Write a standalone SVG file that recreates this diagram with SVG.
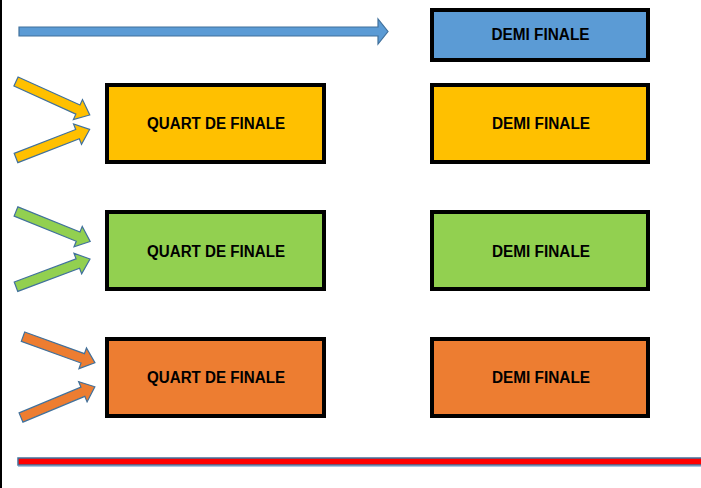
<svg xmlns="http://www.w3.org/2000/svg" width="701" height="488" viewBox="0 0 701 488">
<style>
.box{stroke:#000;stroke-width:4}
.arr{stroke:#41719c;stroke-width:1.2;stroke-linejoin:miter}
.lbl{font-family:"Liberation Sans",Arial,sans-serif;font-weight:bold;font-size:16px;fill:#000;text-anchor:middle}
.y{fill:#ffc000}.g{fill:#92d050}.o{fill:#ed7d31}.b{fill:#5b9bd5}
</style>
<rect x="0" y="0" width="701" height="488" fill="#fff"/>
<line x1="1" y1="0" x2="1" y2="488" stroke="#000" stroke-width="2"/>
<g id="connectors">
<polygon class="arr b" points="19,27 378,27 378,19 388,31.5 378,44 378,36 19,36"/>
<polygon class="arr y" transform="translate(16,81.5) rotate(24.4)" points="0,-5 68,-5 68,-11 81,0 68,11 68,5 0,5"/>
<polygon class="arr y" transform="translate(16,158) rotate(-21.2)" points="0,-5 66,-5 66,-11 79,0 66,11 66,5 0,5"/>
<polygon class="arr g" transform="translate(16,211.5) rotate(22)" points="0,-5 67,-5 67,-11 80,0 67,11 67,5 0,5"/>
<polygon class="arr g" transform="translate(16,286.7) rotate(-20.5)" points="0,-5 66,-5 66,-11 79,0 66,11 66,5 0,5"/>
<polygon class="arr o" transform="translate(23,336.7) rotate(19.9)" points="0,-5 63.5,-5 63.5,-11 76.5,0 63.5,11 63.5,5 0,5"/>
<polygon class="arr o" transform="translate(21,417.5) rotate(-22.6)" points="0,-5 67,-5 67,-11 80,0 67,11 67,5 0,5"/>
<rect x="18" y="458" width="690" height="7" fill="#ff0000" stroke="#41719c" stroke-width="1.5"/>
<line x1="18" y1="466.5" x2="701" y2="466.5" stroke="#a9c4e0" stroke-width="1"/>
</g>
<g id="demi-blue">
<rect class="box b" x="432" y="10" width="216" height="50"/>
<text class="lbl" x="540.5" y="39.5" textLength="98" lengthAdjust="spacingAndGlyphs">DEMI FINALE</text>
</g>
<g id="quart-yellow">
<rect class="box y" x="107" y="85" width="217" height="77"/>
<text class="lbl" x="216" y="129" textLength="138" lengthAdjust="spacingAndGlyphs">QUART DE FINALE</text>
</g>
<g id="demi-yellow">
<rect class="box y" x="432" y="85" width="216" height="77"/>
<text class="lbl" x="541" y="129" textLength="98" lengthAdjust="spacingAndGlyphs">DEMI FINALE</text>
</g>
<g id="quart-green">
<rect class="box g" x="107" y="212" width="217" height="77"/>
<text class="lbl" x="216" y="256.5" textLength="138" lengthAdjust="spacingAndGlyphs">QUART DE FINALE</text>
</g>
<g id="demi-green">
<rect class="box g" x="432" y="212" width="216" height="77"/>
<text class="lbl" x="541" y="256.5" textLength="98" lengthAdjust="spacingAndGlyphs">DEMI FINALE</text>
</g>
<g id="quart-orange">
<rect class="box o" x="107" y="339" width="217" height="77"/>
<text class="lbl" x="216" y="382.5" textLength="138" lengthAdjust="spacingAndGlyphs">QUART DE FINALE</text>
</g>
<g id="demi-orange">
<rect class="box o" x="432" y="339" width="216" height="77"/>
<text class="lbl" x="541" y="382.5" textLength="98" lengthAdjust="spacingAndGlyphs">DEMI FINALE</text>
</g>
</svg>
